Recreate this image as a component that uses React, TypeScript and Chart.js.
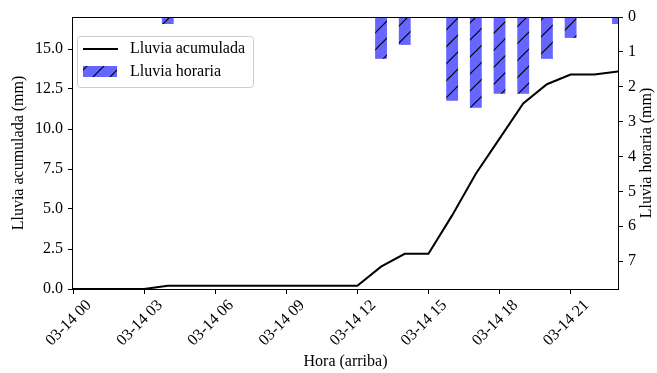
import React, { useEffect, useRef } from "react";
import { Chart, registerables } from "chart.js";

Chart.register(...registerables);

const hours = [0, 1, 2, 3, 4, 5, 6, 7, 8, 9, 10, 11, 12, 13, 14, 15, 16, 17, 18, 19, 20, 21, 22, 23];
const cumulativeRain = [0, 0, 0, 0, 0.2, 0.2, 0.2, 0.2, 0.2, 0.2, 0.2, 0.2, 0.2, 1.4, 2.2, 2.2, 4.6, 7.2, 9.4, 11.6, 12.8, 13.4, 13.4, 13.6];
const hourlyRain = [0, 0, 0, 0, 0.2, 0, 0, 0, 0, 0, 0, 0, 0, 1.2, 0.8, 0, 2.4, 2.6, 2.2, 2.2, 1.2, 0.6, 0, 0.2];
const xTickLabels = ["03-14 00", "03-14 03", "03-14 06", "03-14 09", "03-14 12", "03-14 15", "03-14 18", "03-14 21"];
const leftTitle = "Lluvia acumulada (mm)";
const rightTitle = "Lluvia horaria (mm)";
const xTitle = "Hora (arriba)";
const seriesNames = ["Lluvia acumulada", "Lluvia horaria"];

const FONT = "'Liberation Serif', 'Times New Roman', serif";
const FS = 16;

function makeHatch(): CanvasPattern | string {
  const s = 17;
  const c = document.createElement("canvas");
  c.width = s;
  c.height = s;
  const g = c.getContext("2d");
  if (!g) return "#6666ff";
  g.fillStyle = "#6666ff";
  g.fillRect(0, 0, s, s);
  g.strokeStyle = "#000";
  g.lineWidth = 1.2;
  g.beginPath();
  g.moveTo(-2, s + 2);
  g.lineTo(s + 2, -2);
  g.moveTo(-2, 2);
  g.lineTo(2, -2);
  g.moveTo(s - 2, s + 2);
  g.lineTo(s + 2, s - 2);
  g.stroke();
  const p = g.createPattern(c, "repeat");
  return p || "#6666ff";
}

export default function App() {
  const ref = useRef<HTMLCanvasElement | null>(null);

  useEffect(() => {
    document.body.style.margin = "0";
    const canvas = ref.current;
    if (!canvas) return;
    const hatch = makeHatch();

    const overlay = {
      id: "overlay",
      afterDraw(chart: any) {
        const ctx = chart.ctx as CanvasRenderingContext2D;
        const a = chart.chartArea;
        ctx.save();
        // frame
        ctx.strokeStyle = "#000";
        ctx.lineWidth = 1;
        ctx.strokeRect(Math.round(a.left) - 0.5, Math.round(a.top) + 0.5, Math.round(a.right - a.left) + 1, Math.round(a.bottom - a.top));
        // titles
        ctx.fillStyle = "#000";
        ctx.font = `${FS}px ${FONT}`;
        ctx.textAlign = "center";
        ctx.textBaseline = "middle";
        const cy = (a.top + a.bottom) / 2;
        ctx.save();
        ctx.translate(19, cy);
        ctx.rotate(-Math.PI / 2);
        ctx.fillText(leftTitle, 0, 0);
        ctx.restore();
        ctx.save();
        ctx.translate(647, cy);
        ctx.rotate(-Math.PI / 2);
        ctx.fillText(rightTitle, 0, 0);
        ctx.restore();
        ctx.fillText(xTitle, (a.left + a.right) / 2, 362);
        // legend
        const bx = 77.5, by = 36.5, bw = 176, bh = 51, r = 3;
        ctx.beginPath();
        ctx.moveTo(bx + r, by);
        ctx.lineTo(bx + bw - r, by);
        ctx.quadraticCurveTo(bx + bw, by, bx + bw, by + r);
        ctx.lineTo(bx + bw, by + bh - r);
        ctx.quadraticCurveTo(bx + bw, by + bh, bx + bw - r, by + bh);
        ctx.lineTo(bx + r, by + bh);
        ctx.quadraticCurveTo(bx, by + bh, bx, by + bh - r);
        ctx.lineTo(bx, by + r);
        ctx.quadraticCurveTo(bx, by, bx + r, by);
        ctx.closePath();
        ctx.fillStyle = "rgba(255,255,255,0.8)";
        ctx.fill();
        ctx.strokeStyle = "#cccccc";
        ctx.stroke();
        ctx.strokeStyle = "#000";
        ctx.lineWidth = 2;
        ctx.beginPath();
        ctx.moveTo(83, 49);
        ctx.lineTo(118, 49);
        ctx.stroke();
        ctx.fillStyle = hatch as any;
        ctx.fillRect(83, 66, 34, 11);
        ctx.fillStyle = "#000";
        ctx.textAlign = "left";
        ctx.fillText(seriesNames[0], 130, 49);
        ctx.fillText(seriesNames[1], 130, 72);
        ctx.restore();
      },
    };

    const chart = new Chart(canvas, {
      type: "bar",
      data: {
        datasets: [
          {
            type: "line",
            label: seriesNames[0],
            data: hours.map((h, i) => ({ x: h, y: cumulativeRain[i] })),
            borderColor: "#000",
            borderWidth: 2,
            pointRadius: 0,
            tension: 0,
            yAxisID: "y",
            order: 2,
          } as any,
          {
            type: "bar",
            label: seriesNames[1],
            data: hours.map((h, i) => ({ x: h, y: hourlyRain[i] })),
            backgroundColor: hatch as any,
            borderWidth: 0,
            barPercentage: 0.5,
            categoryPercentage: 1,
            grouped: false,
            yAxisID: "y2",
            order: 1,
          } as any,
        ],
      },
      options: {
        responsive: false,
        animation: false,
        layout: { padding: { top: 17, left: 0, right: 0, bottom: 0 } },
        plugins: { legend: { display: false }, tooltip: { enabled: false } },
        font: { family: FONT, size: FS },
        scales: {
          x: {
            type: "linear",
            offset: false,
            min: 0,
            max: 23,
            afterFit: (s: any) => { s.height = 84; },
            grid: { offset: false, drawOnChartArea: false, drawTicks: true, tickLength: 5, color: "#000" },
            border: { display: false },
            ticks: {
              stepSize: 3,
              includeBounds: false,
              maxRotation: 45,
              minRotation: 45,
              autoSkip: false,
              padding: 2,
              labelOffset: 16,
              color: "#000",
              font: { family: FONT, size: FS },
              callback: (v: any) => xTickLabels[Math.round(Number(v) / 3)] ?? "",
            },
          },
          y: {
            type: "linear",
            position: "left",
            min: 0,
            max: 17,
            afterFit: (s: any) => { s.width = 73; },
            grid: { drawOnChartArea: false, drawTicks: true, tickLength: 5, color: "#000" },
            border: { display: false },
            ticks: {
              stepSize: 2.5,
              includeBounds: false,
              padding: 5,
              color: "#000",
              font: { family: FONT, size: FS },
              callback: (v: any) => Number(v).toFixed(1),
            },
          },
          y2: {
            type: "linear",
            position: "right",
            reverse: true,
            min: 0,
            max: 7.8,
            afterFit: (s: any) => { s.width = 39; },
            grid: { drawOnChartArea: false, drawTicks: true, tickLength: 5, color: "#000" },
            border: { display: false },
            ticks: {
              stepSize: 1,
              includeBounds: false,
              padding: 5,
              color: "#000",
              font: { family: FONT, size: FS },
              callback: (v: any) => String(v),
            },
          },
        },
      } as any,
      plugins: [overlay],
    });
    return () => chart.destroy();
  }, []);

  return <canvas ref={ref} width={657} height={373} style={{ display: "block" }} />;
}
